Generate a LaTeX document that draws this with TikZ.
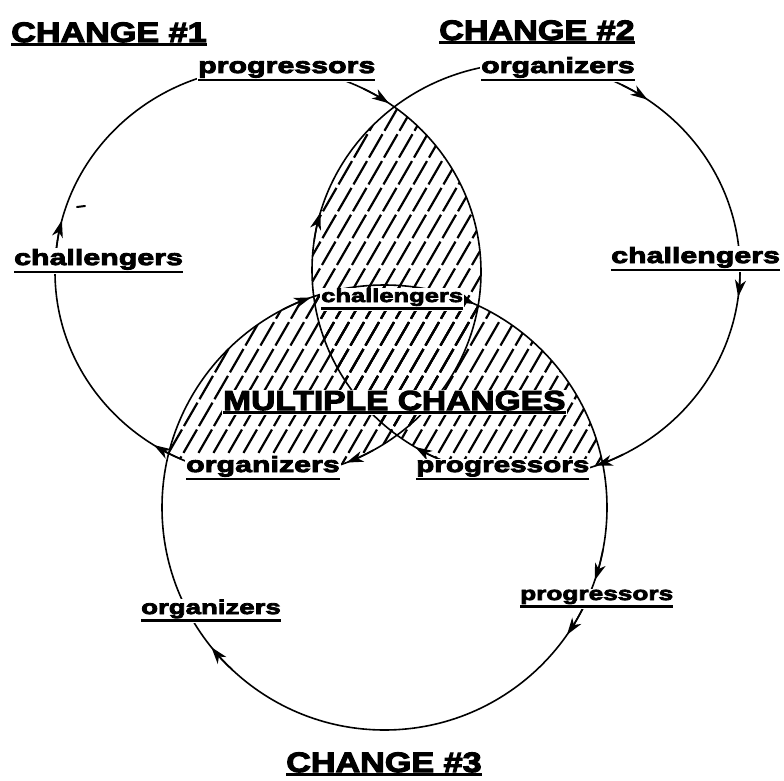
\documentclass[tikz,border=0pt]{standalone}
\usepackage{fontspec}
\setmainfont{Liberation Sans}
\newfontfamily\bigfont{Liberation Sans}[UprightFont=* Bold, FakeStretch=1.22, FakeBold=4]
\newfontfamily\smallfont{Liberation Sans}[UprightFont=* Bold, FakeStretch=1.38, FakeBold=4]
\usetikzlibrary{arrows.meta}
\newsavebox\ulbox
\newcommand\myul[2][2.8pt]{\sbox\ulbox{#2}\leavevmode\rlap{\usebox\ulbox}\rule[\dimexpr-\dp\ulbox-1pt-#1\relax]{\wd\ulbox}{#1}}
\newcommand\hatchfill{\foreach \hx in {100,115,...,1150} {\draw[hatchline] (\hx,0) -- ++(-451,781);}}
% arrow on a ring: centre, x radius, y radius, angle of the tip
\newcommand\ringtip[4]{\draw[ring,-{Stealth[length=17pt,width=11pt,inset=5pt]}] (#1) ++(#4-8:#2 and #3) arc[start angle=#4-8, end angle=#4, x radius=#2, y radius=#3];}
\tikzset{
  ring/.style={line width=1.6pt},
  hatchline/.style={line width=2.2pt, dash pattern=on 27pt off 4pt},
  lbl/.style={fill=white, inner sep=1pt, anchor=base west},
  bigl/.style={lbl, font=\bigfont\fontsize{28}{30}\selectfont},
  smalll/.style={lbl, font=\smallfont\fontsize{#1}{24}\selectfont},
}
\begin{document}
\begin{tikzpicture}[x=1pt,y=-1pt]
\useasboundingbox (0,0) rectangle (784,781);
\coordinate (k1) at (268,272);
\coordinate (k2) at (526,270);
\coordinate (k3) at (384.5,507.5);
% hatched overlaps
\begin{scope}
  \clip (k1) ellipse [x radius=213, y radius=205];
  \clip (k2) ellipse [x radius=214, y radius=207];
  \hatchfill
\end{scope}
\begin{scope}
  \clip (k1) ellipse [x radius=213, y radius=205];
  \clip (k3) circle (222.5);
  \hatchfill
\end{scope}
\begin{scope}
  \clip (k2) ellipse [x radius=214, y radius=207];
  \clip (k3) circle (222.5);
  \hatchfill
\end{scope}
% rings
\draw[ring] (k1) ellipse [x radius=213, y radius=205];
\draw[ring] (k2) ellipse [x radius=214, y radius=207];
\draw[ring] (k3) circle (222.5);
% arrowheads (clockwise on screen)
\ringtip{k1}{213}{205}{304.6}
\ringtip{k1}{213}{205}{194.6}
\ringtip{k1}{213}{205}{122.4}
\ringtip{k1}{213}{205}{68.4}
\ringtip{k2}{214}{207}{304.6}
\ringtip{k2}{214}{207}{7.5}
\ringtip{k2}{214}{207}{71}
\ringtip{k2}{214}{207}{121.2}
\ringtip{k2}{214}{207}{196.1}
\ringtip{k3}{222.5}{222.5}{250.7}
\ringtip{k3}{222.5}{222.5}{293.9}
\ringtip{k3}{222.5}{222.5}{19.1}
\ringtip{k3}{222.5}{222.5}{34.9}
\ringtip{k3}{222.5}{222.5}{141.1}
% stray mark
\draw[line width=2pt, line cap=round] (77,207) -- (85,206);
% labels
\node[bigl] (c1) at (10,42) {\myul[3pt]{CHANGE \#1}};
\node[bigl] (c2) at (438,40) {\myul[3pt]{CHANGE \#2}};
\node[bigl] (c3) at (285,772) {\myul[3pt]{CHANGE \#3}};
\node[lbl, font=\bigfont\fontsize{27.5}{30}\selectfont] (multi) at (222,410) {\myul[3pt]{MULTIPLE CHANGES}};
\node[smalll=22] (p1) at (197,73) {\myul{progressors}};
\node[smalll=22] (o2) at (480,73) {\myul{organizers}};
\node[smalll=22] (ch1) at (13,265) {\myul{challengers}};
\node[smalll=22] (ch2) at (610,263) {\myul{challengers}};
\node[smalll=18.5] (ch3) at (320,302) {\myul{challengers}};
\node[smalll=22] (o13) at (185,472) {\myul{organizers}};
\node[smalll=21.5] (p23) at (415,472) {\myul{progressors}};
\node[smalll=19] (p3) at (519,600) {\myul{progressors}};
\node[smalll=20] (o3) at (140,614) {\myul{organizers}};
\end{tikzpicture}
\end{document}
